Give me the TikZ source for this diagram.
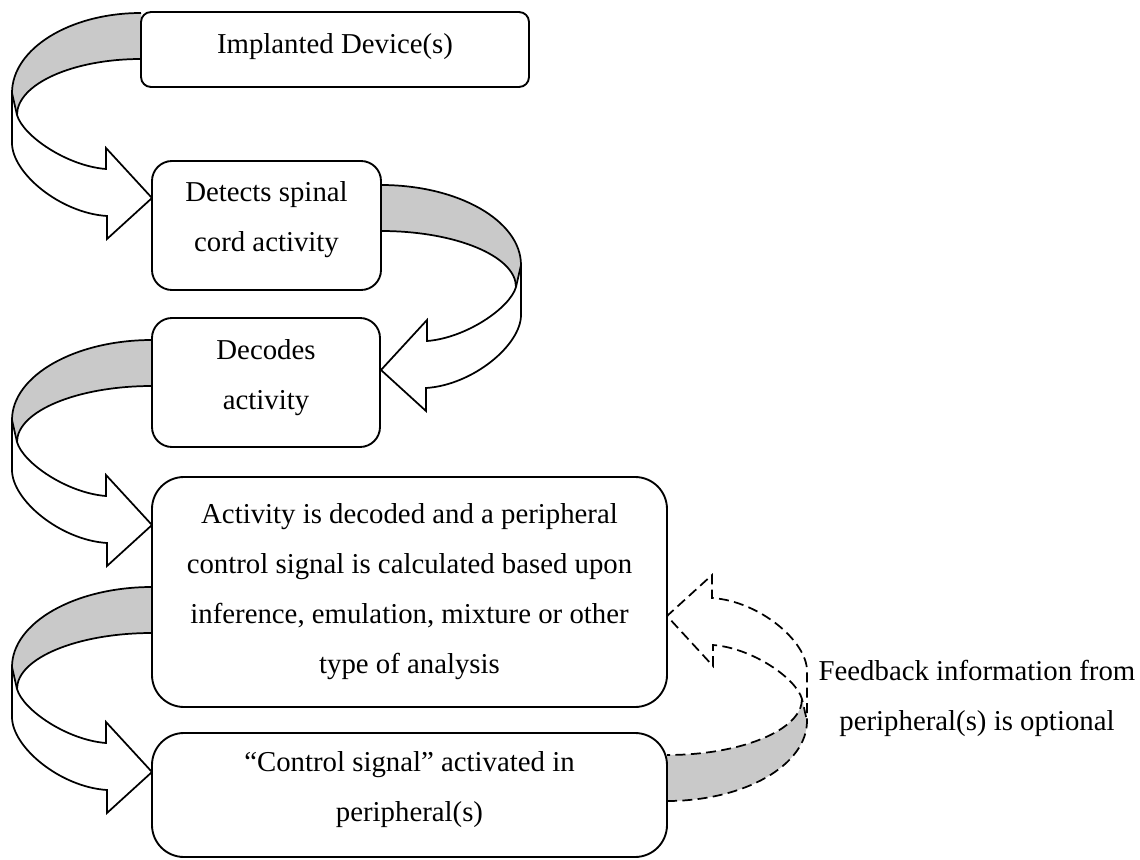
\documentclass[tikz,border=0pt]{standalone}
\usepackage{fontspec}
\setmainfont{Liberation Serif}
\usetikzlibrary{calc}
\pgfdeclarelayer{background}
\pgfsetlayers{background,main}
\begin{document}
\begin{tikzpicture}[x=0.75pt,y=-0.75pt,
  font=\fontsize{21.6pt}{37.5pt}\selectfont,
  box/.style={draw=black, line width=1.4pt, fill=white, inner sep=0pt, outer sep=0pt},
  boxtext/.style={align=center, inner sep=0pt},
  ribbonshade/.style={fill=gray!42},
  ribbonline/.style={draw=black, line width=1.3pt},
  dashedline/.style={dash pattern=on 7.5pt off 4pt, line width=1.8pt},
  % a folded ribbon arrow: leaves a box edge at (#1,0)..(#1,46),
  % bends outwards and comes back with its head at (0,185)
  pics/ribbon/.style={code={
    \fill[ribbonshade] (#1,0) .. controls ({#1-0.552*(#1+140)},0) and (-140,35.8) .. (-140,80)
      -- (-135,102) .. controls (-135,71.1) and ({#1-0.552*(#1+135)},46) .. (#1,46) -- cycle;
    \draw[ribbonline] (#1,0) .. controls ({#1-0.552*(#1+140)},0) and (-140,35.8) .. (-140,80)
      -- (-140,130) .. controls (-140,160) and (-92,200) .. (-45,203)
      -- (-45,226) -- (0,185) -- (-46,135) -- (-46,156)
      .. controls (-85,153) and (-129,123) .. (-135,102) -- (-140,80);
    \draw[ribbonline] (-135,102) .. controls (-135,71.1) and ({#1-0.552*(#1+135)},46) .. (#1,46);
  }}
]
\useasboundingbox (0,0) rectangle (1140,860);

% process boxes
\node[box, rounded corners=7.5pt, minimum width=291pt, minimum height=56.25pt] (impl) at (335,49.5) {};
\node[boxtext] (impl-text) at ($(impl)+(0,-2.5)$) {Implanted Device(s)};

\node[box, rounded corners=15pt, minimum width=171.75pt, minimum height=96.75pt] (det) at (266.5,225.5) {};
\node[boxtext] (det-text) at ($(det)+(0,-6)$) {Detects spinal\\cord activity};

\node[box, rounded corners=15pt, minimum width=171pt, minimum height=96.75pt] (dec) at (266,382.5) {};
\node[boxtext] (dec-text) at ($(dec)+(0,-5)$) {Decodes\\activity};

\node[box, rounded corners=24pt, minimum width=386.25pt, minimum height=172.5pt] (act) at (409.5,592) {};
\node[boxtext] (act-text) at (act) {Activity is decoded and a peripheral\\control signal is calculated based upon\\inference, emulation, mixture or other\\type of analysis};

\node[box, rounded corners=24pt, minimum width=386.25pt, minimum height=93pt] (ctl) at (409.5,795) {};
\node[boxtext] (ctl-text) at ($(ctl)+(0,-5)$) {“Control signal” activated in\\peripheral(s)};

\node[boxtext] (fb) at (977,698) {Feedback information from\\peripheral(s) is optional};

% ribbon arrows between the boxes
\begin{pgfonlayer}{background}
  \pic at ($(det.west |- impl.north)+(0,1)$) {ribbon=-11};
  \pic[xscale=-1] at ($(det.north east)+(0,24)$) {ribbon=0};
  \pic at ($(dec.north west)+(0,22)$) {ribbon=0};
  \pic at ($(act.north west)+(0,110)$) {ribbon=0};
  \pic[rotate=180, dashedline] at ($(ctl.north east)+(0,68)$) {ribbon=0};
\end{pgfonlayer}
\end{tikzpicture}
\end{document}
